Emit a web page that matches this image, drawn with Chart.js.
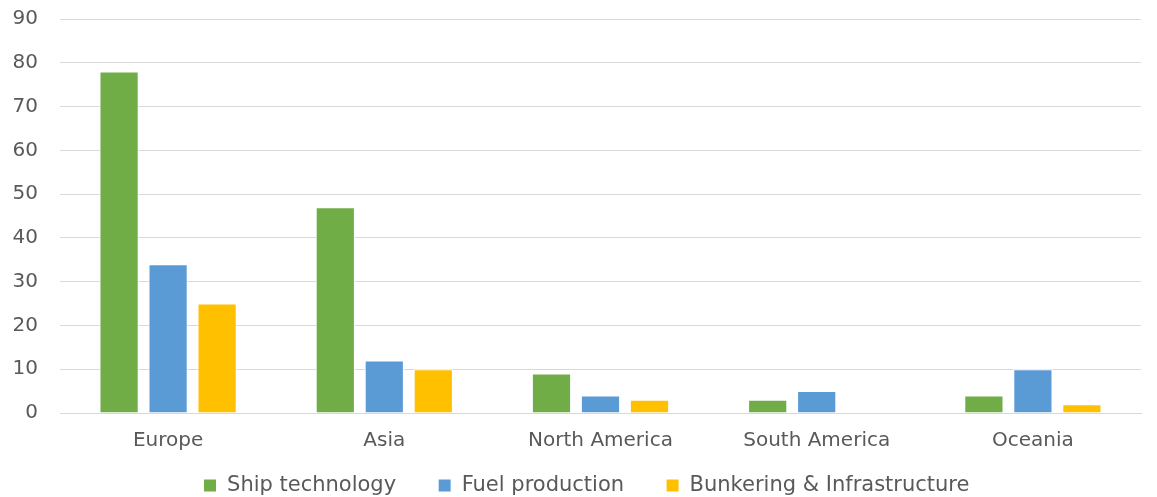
<!DOCTYPE html>
<html>
<head>
<meta charset="utf-8">
<script src="https://cdn.jsdelivr.net/npm/chart.js@4"></script>
<style>
  html, body { margin: 0; padding: 0; background: #fff; }
  #wrap { width: 1157px; height: 497px; }
</style>
</head>
<body>
<div id="wrap"><canvas id="regionChart"></canvas></div>
<script>
const regions = ['Europe', 'Asia', 'North America', 'South America', 'Oceania'];
const shipTech = [78, 47, 9, 3, 4];
const fuelProd = [34, 12, 4, 5, 10];
const bunkering = [25, 10, 3, 0, 2];

Chart.defaults.font.family = "'DejaVu Sans', sans-serif";
Chart.defaults.color = '#595959';

// legend needs wide gaps between items but little space above/below them
const legendTighten = {
  id: 'legendTighten',
  afterInit(chart) {
    const lg = chart.legend;
    const fit = lg.fit;
    lg.fit = function () { fit.call(this); this.height -= 39; };
    const draw = lg.draw;
    lg.draw = function () {
      const box = { top: this.top, bottom: this.bottom, left: this.left, right: this.right };
      this.top -= 28;
      this.bottom = chart.height;
      this.left += 16;
      this.right += 16;
      draw.call(this);
      Object.assign(this, box);
    };
  }
};

const ctx = document.getElementById('regionChart').getContext('2d');

const chart = new Chart(ctx, {
  type: 'bar',
  data: {
    labels: regions,
    datasets: [
      { label: 'Ship technology', data: shipTech, backgroundColor: '#70AD47' },
      { label: 'Fuel production', data: fuelProd, backgroundColor: '#5B9BD5' },
      { label: 'Bunkering & Infrastructure', data: bunkering, backgroundColor: '#FFC000' }
    ].map(d => Object.assign(d, {
      borderColor: '#ffffff',
      borderWidth: 1,
      barPercentage: 0.8,
      categoryPercentage: 0.68
    }))
  },
  options: {
    responsive: true,
    maintainAspectRatio: false,
    animation: false,
    layout: { padding: { left: 0, right: 16, top: 0, bottom: 2 } },
    plugins: {
      tooltip: { enabled: false },
      legend: {
        position: 'bottom',
        labels: {
          boxWidth: 13,
          boxHeight: 13,
          padding: 42,
          font: { size: 21 },
          color: '#595959'
        }
      }
    },
    scales: {
      x: {
        afterFit(scale) { scale.paddingLeft = 0; },
        grid: { display: false },
        border: { color: '#d9d9d9', width: 1 },
        ticks: { font: { size: 20 }, padding: 8, color: '#595959' }
      },
      y: {
        min: 0,
        max: 90,
        afterFit(scale) { scale.paddingTop = 19; scale.width = 60; },
        ticks: { stepSize: 10, font: { size: 20 }, padding: 22, color: '#595959' },
        grid: { color: '#d9d9d9', drawTicks: false },
        border: { display: false }
      }
    }
  },
  plugins: [legendTighten]
});
</script>
</body>
</html>
